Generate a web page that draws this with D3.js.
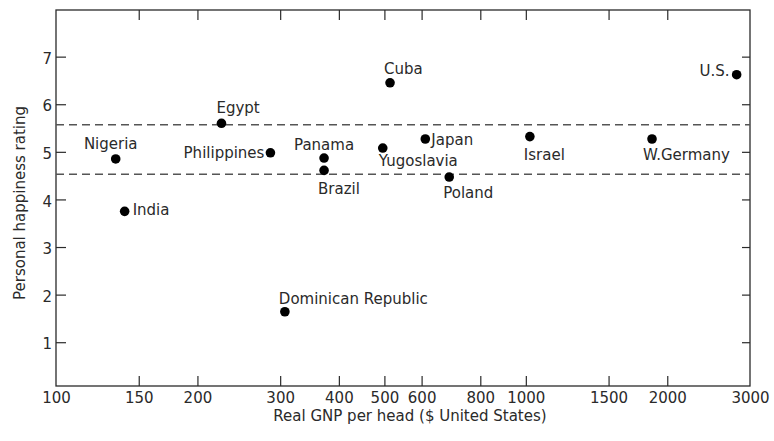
<!DOCTYPE html>
<html>
<head>
<meta charset="utf-8">
<script src="https://cdn.jsdelivr.net/npm/d3@7/dist/d3.min.js"></script>
<style>
  html, body { margin: 0; padding: 0; background: #fff; }
  svg { display: block; }
  text { font-family: "DejaVu Sans", sans-serif; fill: #2a2a2a; }
</style>
</head>
<body>
<svg id="chart" width="774" height="441"></svg>
<script>
// Countries, real GNP per head (US $) and personal happiness rating
const countries = ["Nigeria", "India", "Egypt", "Philippines", "Panama", "Brazil",
  "Yugoslavia", "Cuba", "Japan", "Poland", "Israel", "W.Germany", "U.S.", "Dominican Republic"];
const gnpPerHead = [134, 140, 225, 286, 372, 372, 496, 514, 611, 687, 1020, 1856, 2810, 307];
const happiness = [4.85, 3.75, 5.6, 4.98, 4.87, 4.61, 5.08, 6.45, 5.27, 4.47, 5.32, 5.27, 6.62, 1.64];

// Band of average rating (dashed lines)
const bandLevels = [5.57, 4.53];

// Axis ticks
const xTicks = [100, 150, 200, 300, 400, 500, 600, 800, 1000, 1500, 2000, 3000];
const yTicks = [1, 2, 3, 4, 5, 6, 7];

const xTitle = "Real GNP per head ($ United States)";
const yTitle = "Personal happiness rating";

// Where each country's name sits relative to its dot
const labelPlacement = {
  "Nigeria":            { anchor: "middle", dx: -5, dy: -10 },
  "India":              { anchor: "start",  dx: 8,  dy: 4 },
  "Egypt":              { anchor: "start",  dx: -5, dy: -10 },
  "Philippines":        { anchor: "end",    dx: -6, dy: 5 },
  "Panama":             { anchor: "middle", dx: 0,  dy: -8 },
  "Brazil":             { anchor: "start",  dx: -6, dy: 24 },
  "Yugoslavia":         { anchor: "start",  dx: -4, dy: 18 },
  "Cuba":               { anchor: "start",  dx: -6, dy: -9 },
  "Japan":              { anchor: "start",  dx: 6,  dy: 6 },
  "Poland":             { anchor: "start",  dx: -6, dy: 21 },
  "Israel":             { anchor: "start",  dx: -6, dy: 23 },
  "W.Germany":          { anchor: "start",  dx: -9, dy: 21 },
  "U.S.":               { anchor: "end",    dx: -7, dy: 1 },
  "Dominican Republic": { anchor: "start",  dx: -6, dy: -8 }
};

const svg = d3.select("#chart");
const plot = { left: 56, right: 750, top: 10, bottom: 386 };

const x = d3.scaleLog().domain([100, 3000]).range([plot.left, plot.right]);
const y = d3.scaleLinear().domain([0.08, 7.98]).range([plot.bottom, plot.top]);

const axisColor = "#2a2a2a";
const textColor = "#2a2a2a";
const tickLen = 10;

// Frame
svg.append("rect")
  .attr("x", plot.left).attr("y", plot.top)
  .attr("width", plot.right - plot.left).attr("height", plot.bottom - plot.top)
  .attr("fill", "none").attr("stroke", axisColor).attr("stroke-width", 1.3);

// Bottom axis: inward ticks, labels below
const bottomAxis = d3.axisBottom(x)
  .tickValues(xTicks)
  .tickSizeInner(-tickLen).tickSizeOuter(0)
  .tickPadding(6)
  .tickFormat(d3.format("d"));
const gb = svg.append("g").attr("transform", `translate(0,${plot.bottom})`).call(bottomAxis);
gb.select(".domain").remove();
gb.selectAll(".tick line")
  .attr("stroke", axisColor).attr("stroke-width", 1.2)
  .attr("display", d => (d === 100 || d === 3000) ? "none" : null);
gb.selectAll(".tick text")
  .attr("font-size", 15).attr("font-family", "DejaVu Sans").attr("fill", textColor);

// Top axis: inward ticks only
const topAxis = d3.axisTop(x)
  .tickValues(xTicks.filter(d => d !== 100 && d !== 3000))
  .tickSizeInner(-tickLen).tickSizeOuter(0)
  .tickFormat("");
const gt = svg.append("g").attr("transform", `translate(0,${plot.top})`).call(topAxis);
gt.select(".domain").remove();
gt.selectAll(".tick line").attr("stroke", axisColor).attr("stroke-width", 1.2);

// Left axis: inward ticks, labels outside
const leftAxis = d3.axisLeft(y)
  .tickValues(yTicks)
  .tickSizeInner(-tickLen).tickSizeOuter(0)
  .tickPadding(4)
  .tickFormat(d3.format("d"));
const gl = svg.append("g").attr("transform", `translate(${plot.left},0)`).call(leftAxis);
gl.select(".domain").remove();
gl.selectAll(".tick line").attr("stroke", axisColor).attr("stroke-width", 1.2);
gl.selectAll(".tick text")
  .attr("font-size", 15).attr("font-family", "DejaVu Sans").attr("fill", textColor)
  .attr("dy", "0.45em");

// Right axis: inward ticks only
const rightAxis = d3.axisRight(y)
  .tickValues(yTicks)
  .tickSizeInner(-tickLen + 2).tickSizeOuter(0)
  .tickFormat("");
const gr = svg.append("g").attr("transform", `translate(${plot.right},0)`).call(rightAxis);
gr.select(".domain").remove();
gr.selectAll(".tick line").attr("stroke", axisColor).attr("stroke-width", 1.2);

// Dashed band lines
svg.append("g").selectAll("line")
  .data(bandLevels)
  .join("line")
  .attr("x1", plot.left).attr("x2", plot.right)
  .attr("y1", d => y(d)).attr("y2", d => y(d))
  .attr("stroke", "#555").attr("stroke-width", 1.6)
  .attr("stroke-dasharray", "8,5");

// Points
const points = countries.map((c, i) => ({ name: c, gnp: gnpPerHead[i], rating: happiness[i] }));

svg.append("g").selectAll("circle")
  .data(points)
  .join("circle")
  .attr("cx", d => x(d.gnp))
  .attr("cy", d => y(d.rating))
  .attr("r", 4.8)
  .attr("fill", "#000");

svg.append("g").selectAll("text")
  .data(points)
  .join("text")
  .attr("x", d => x(d.gnp) + labelPlacement[d.name].dx)
  .attr("y", d => y(d.rating) + labelPlacement[d.name].dy)
  .attr("text-anchor", d => labelPlacement[d.name].anchor)
  .attr("font-size", 15)
  .text(d => d.name);

// Axis titles
svg.append("text")
  .attr("x", 410).attr("y", 421)
  .attr("text-anchor", "middle")
  .attr("font-size", 15)
  .text(xTitle);

svg.append("text")
  .attr("transform", "translate(25,203) rotate(-90)")
  .attr("text-anchor", "middle")
  .attr("font-size", 15)
  .text(yTitle);
</script>
</body>
</html>
